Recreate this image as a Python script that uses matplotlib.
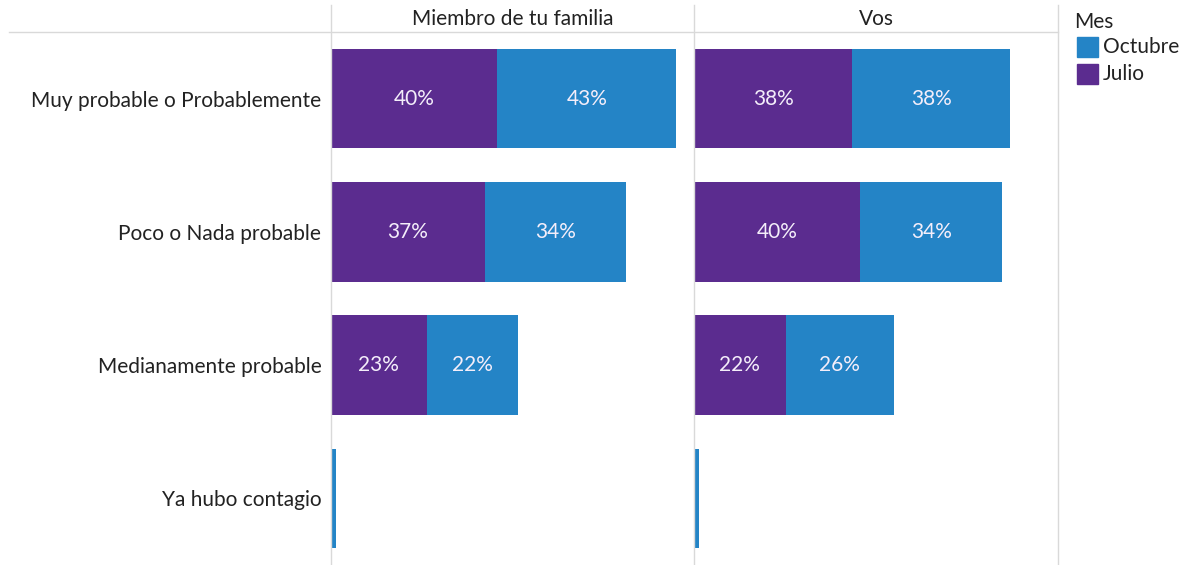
import matplotlib.pyplot as plt
from matplotlib.lines import Line2D
from matplotlib.patches import Rectangle

plt.rcParams['font.family'] = ['Lato', 'DejaVu Sans']

categories = ['Muy probable o Probablemente', 'Poco o Nada probable',
              'Medianamente probable', 'Ya hubo contagio']
panels = ['Miembro de tu familia', 'Vos']
legend_labels = ['Octubre', 'Julio']

# percentages per panel, Julio then Octubre
julio = {
    'Miembro de tu familia': [40, 37, 23, 0],
    'Vos': [38, 40, 22, 0],
}
octubre = {
    'Miembro de tu familia': [43, 34, 22, 1.2],
    'Vos': [38, 34, 26, 1.1],
}

c_julio = '#5b2c8f'
c_octubre = '#2484c6'
grid_c = '#d9d9d9'

W, H = 1184, 565
fig = plt.figure(figsize=(W / 100, H / 100), dpi=100)

def fx(px):
    return px / W

def fy(py):
    return 1 - py / H

top = 32
lefts = [331, 694]
width = 364

for i, name in enumerate(panels):
    ax = fig.add_axes([fx(lefts[i]), 0, fx(width), (H - top) / H])
    y = range(len(categories))
    j = julio[name]
    o = octubre[name]
    ax.barh(y, j, height=0.745, color=c_julio)
    ax.barh(y, o, left=j, height=0.745, color=c_octubre)
    for k in y:
        if j[k] >= 5:
            ax.text(j[k] / 2, k, f'{j[k]:.0f}%', ha='center', va='center',
                    color='#f4eefa', fontsize=15)
        if o[k] >= 5:
            ax.text(j[k] + o[k] / 2, k, f'{o[k]:.0f}%', ha='center', va='center',
                    color='#f4eefa', fontsize=15)
    ax.set_xlim(0, 87.5)
    ax.set_ylim(3.5, -0.5)
    ax.set_xticks([])
    for s in ax.spines.values():
        s.set_visible(False)
    if i == 0:
        ax.set_yticks(list(y))
        ax.set_yticklabels(categories, fontsize=15, color='#222222')
        ax.tick_params(axis='y', length=0, pad=7)
    else:
        ax.set_yticks([])
    # panel header
    fig.text(fx(lefts[i] + width / 2), fy(19), name, ha='center', va='center',
             fontsize=15, color='#222222')

# frame lines
for xpx in [331, 694, 1058]:
    fig.add_artist(Line2D([fx(xpx), fx(xpx)], [fy(5), 0], color=grid_c, lw=1))
fig.add_artist(Line2D([fx(9), fx(1058)], [fy(32), fy(32)], color=grid_c, lw=1))

# legend drawn by hand
fig.text(fx(1074), fy(22), 'Mes', ha='left', va='center', fontsize=15, color='#222222')
for n, (lab, col) in enumerate(zip(legend_labels, [c_octubre, c_julio])):
    yc = 47 + n * 27
    fig.add_artist(Rectangle((fx(1077), fy(yc + 10)), fx(21), 20 / H,
                             color=col, transform=fig.transFigure))
    fig.text(fx(1103), fy(yc), lab, ha='left', va='center', fontsize=15,
             color='#222222')

fig.savefig('out.png', dpi=100)
